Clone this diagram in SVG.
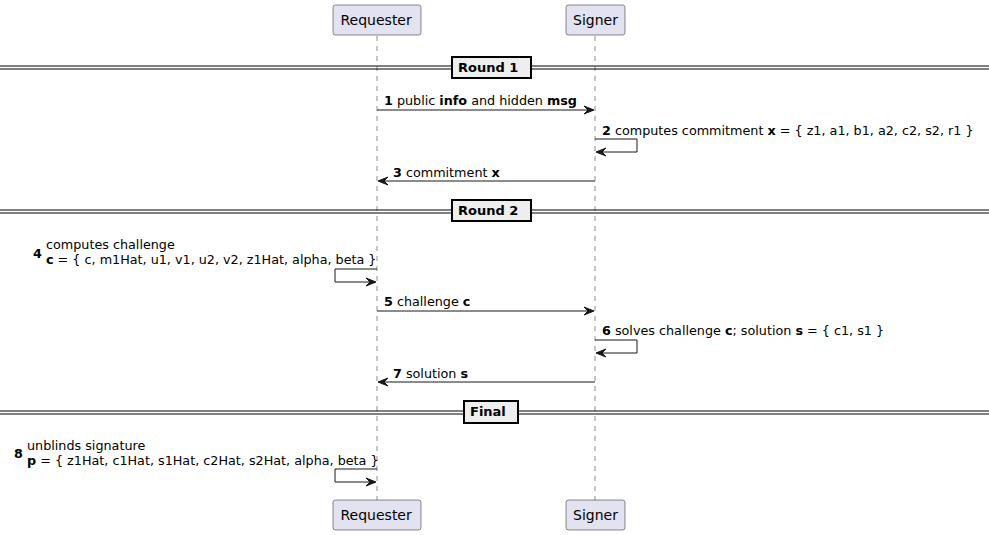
<svg xmlns="http://www.w3.org/2000/svg" width="989" height="535" viewBox="0 0 989 535">
<style>
text{font-family:"DejaVu Sans",sans-serif;fill:#000}
.p{font-size:14px}
.m{font-size:12.75px}
.d{font-size:13px}
.b{font-weight:bold}
.box{fill:#E2E2F0;stroke:#181818;stroke-width:0.5}
.life{stroke:#181818;stroke-width:0.5;stroke-dasharray:5,5;fill:none}
.msg{stroke:#181818;stroke-width:1;fill:none}
.ah{fill:#181818;stroke:#181818;stroke-width:1}
.dl{stroke:#000;stroke-width:1}
.db{fill:#EEEEEE;stroke:#000;stroke-width:2}
</style>
<g id="lifelines">
<line class="life" x1="377" y1="36" x2="377" y2="500"/>
<line class="life" x1="595" y1="36" x2="595" y2="500"/>
</g>
<g id="requester-top"><rect class="box" x="333" y="5" width="88" height="30" rx="2.5"/><text class="p" x="340.5" y="25">Requester</text></g>
<g id="signer-top"><rect class="box" x="566" y="5" width="59" height="30" rx="2.5"/><text class="p" x="573" y="25">Signer</text></g>
<g id="requester-bottom"><rect class="box" x="333" y="500" width="88" height="30" rx="2.5"/><text class="p" x="340.5" y="520">Requester</text></g>
<g id="signer-bottom"><rect class="box" x="566" y="500" width="59" height="30" rx="2.5"/><text class="p" x="573" y="520">Signer</text></g>
<g id="divider-round1">
<line class="dl" x1="0" y1="66" x2="989" y2="66"/><line class="dl" x1="0" y1="69" x2="989" y2="69"/>
<rect class="db" x="452" y="57" width="79" height="21"/>
<text class="d b" x="458" y="72">Round 1</text>
</g>
<g id="divider-round2">
<line class="dl" x1="0" y1="210" x2="989" y2="210"/><line class="dl" x1="0" y1="213" x2="989" y2="213"/>
<rect class="db" x="452" y="200" width="79" height="21"/>
<text class="d b" x="458" y="215">Round 2</text>
</g>
<g id="divider-final">
<line class="dl" x1="0" y1="411" x2="989" y2="411"/><line class="dl" x1="0" y1="414" x2="989" y2="414"/>
<rect class="db" x="464" y="401" width="54" height="22"/>
<text class="d b" x="470" y="416">Final</text>
</g>
<g id="connectors">
<line class="msg" x1="377" y1="110" x2="593" y2="110"/>
<polygon class="ah" points="584,106 594,110 584,114 588,110"/>
<polyline class="msg" points="595,139 637,139 637,152 597,152"/>
<polygon class="ah" points="606,148 596,152 606,156 602,152"/>
<line class="msg" x1="379" y1="181" x2="595" y2="181"/>
<polygon class="ah" points="388,177 378,181 388,185 384,181"/>
<polyline class="msg" points="377,269 335,269 335,282 375,282"/>
<polygon class="ah" points="366,278 376,282 366,286 370,282"/>
<line class="msg" x1="377" y1="311" x2="593" y2="311"/>
<polygon class="ah" points="584,307 594,311 584,315 588,311"/>
<polyline class="msg" points="595,340 637,340 637,353 597,353"/>
<polygon class="ah" points="606,349 596,353 606,357 602,353"/>
<line class="msg" x1="379" y1="382" x2="595" y2="382"/>
<polygon class="ah" points="388,378 378,382 388,386 384,382"/>
<polyline class="msg" points="377,469 335,469 335,482 375,482"/>
<polygon class="ah" points="366,478 376,482 366,486 370,482"/>
</g>
<g id="labels">
<text class="m" x="384" y="105"><tspan class="b">1</tspan> public <tspan class="b">info</tspan> and hidden <tspan class="b">msg</tspan></text>
<text class="m" x="602" y="135"><tspan class="b">2</tspan> computes commitment <tspan class="b">x</tspan> = { z1, a1, b1, a2, c2, s2, r1 }</text>
<text class="m" x="393" y="177"><tspan class="b">3</tspan> commitment <tspan class="b">x</tspan></text>
<text class="m b" x="33" y="258">4</text>
<text class="m" x="46" y="249">computes challenge</text>
<text class="m" x="46" y="264"><tspan class="b">c</tspan> = { c, m1Hat, u1, v1, u2, v2, z1Hat, alpha, beta }</text>
<text class="m" x="384" y="306"><tspan class="b">5</tspan> challenge <tspan class="b">c</tspan></text>
<text class="m" x="602" y="335"><tspan class="b">6</tspan> solves challenge <tspan class="b">c</tspan>; solution <tspan class="b">s</tspan> = { c1, s1 }</text>
<text class="m" x="393" y="378"><tspan class="b">7</tspan> solution <tspan class="b">s</tspan></text>
<text class="m b" x="14" y="458">8</text>
<text class="m" x="27" y="450">unblinds signature</text>
<text class="m" x="27" y="465"><tspan class="b">p</tspan> = { z1Hat, c1Hat, s1Hat, c2Hat, s2Hat, alpha, beta }</text>
</g>
</svg>
